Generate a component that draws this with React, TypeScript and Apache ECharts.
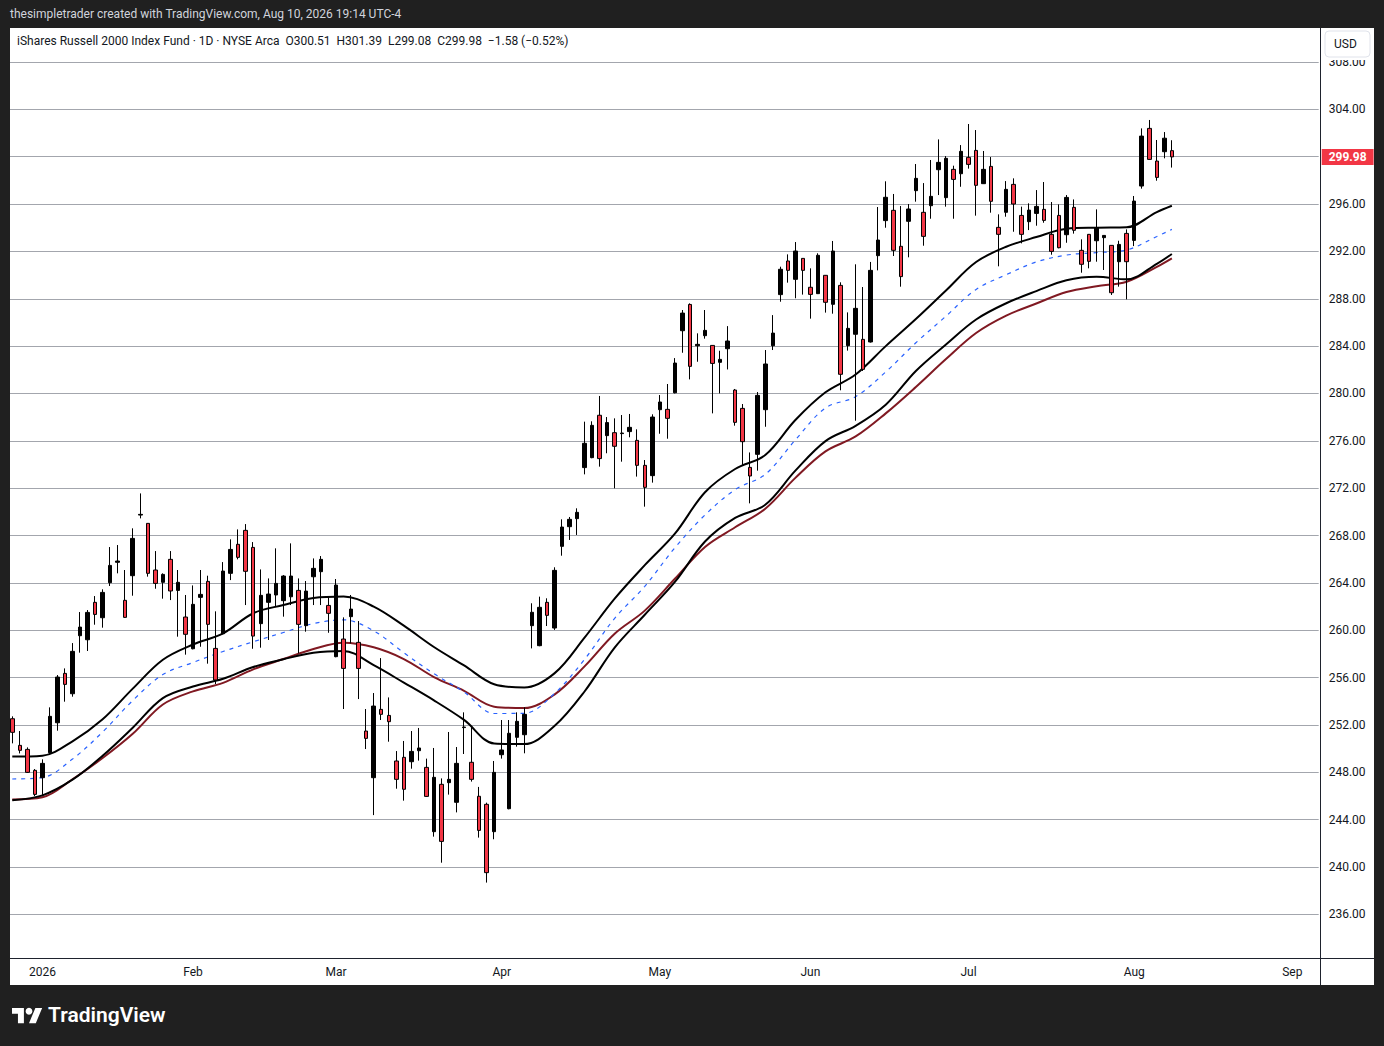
import React, { useEffect, useRef } from "react";
import * as echarts from "echarts";

// ---------- calendar ----------
const HOLIDAYS = ["2026-01-01", "2026-01-19", "2026-02-16", "2026-04-03", "2026-05-25", "2026-06-19", "2026-07-03"];
const FIRST_DAY = "2025-12-26";
const LAST_AXIS_DAY = "2026-09-04";
const TICK_DATES = ["2026-01-02", "2026-02-02", "2026-03-02", "2026-04-01", "2026-05-01", "2026-06-01", "2026-07-01", "2026-08-03", "2026-09-01"];
const TICK_LABELS = ["2026", "Feb", "Mar", "Apr", "May", "Jun", "Jul", "Aug", "Sep"];

// ---------- price axis ----------
const Y_MIN = 232;
const Y_MAX = 312;
const Y_STEP = 4;

// ---------- candles (daily OHLC) ----------
const OPEN = [
  252.53, 250.28, 249.94, 248.17, 247.55, 249.66, 252.19, 256.36, 254.64, 259.54,
  259.2, 262.36, 261.06, 264.02, 265.74, 262.53, 264.61, 269.73, 269.03, 265.09,
  264.05, 265.99, 263.37, 261.12, 258.44, 262.78, 264.13, 258.47, 259.71, 264.81,
  267.26, 268.44, 267.0, 260.56, 262.36, 262.98, 262.5, 262.83, 263.37, 260.39,
  264.52, 264.95, 262.1, 257.77, 259.26, 261.15, 258.98, 251.49, 247.55, 253.32,
  252.81, 248.96, 249.27, 248.9, 249.83, 248.42, 242.99, 246.99, 247.13, 245.47,
  251.78, 248.85, 245.98, 245.3, 242.99, 249.49, 244.93, 250.96, 251.18, 260.39,
  258.7, 262.36, 260.19, 267.09, 268.75, 269.43, 273.74, 274.58, 278.16, 276.44,
  276.69, 276.61, 276.78, 276.04, 273.93, 273.06, 278.63, 278.66, 280.06, 285.3,
  287.52, 284.03, 284.88, 284.06, 282.63, 283.78, 280.29, 278.74, 273.76, 274.86,
  278.63, 284.03, 288.35, 291.19, 289.64, 291.41, 288.97, 288.43, 289.98, 287.53,
  289.13, 284.04, 285.0, 284.57, 284.35, 291.64, 294.6, 295.47, 292.43, 294.54,
  297.13, 295.3, 295.86, 298.9, 296.54, 298.93, 298.56, 299.94, 300.53, 297.72,
  299.18, 294.03, 295.3, 297.66, 295.04, 294.51, 295.21, 295.55, 293.44, 295.04,
  293.41, 295.72, 292.09, 293.44, 292.9, 293.16, 292.51, 291.13, 293.52, 292.93,
  297.52, 302.39, 299.63, 300.42, 300.51,
];
const HIGH = [
  252.73, 251.49, 250.11, 248.28, 249.1, 253.49, 256.22, 256.78, 258.92, 261.54,
  261.71, 262.89, 263.46, 267.03, 267.2, 265.09, 268.61, 271.56, 269.05, 266.69,
  264.81, 266.69, 265.09, 262.98, 263.79, 265.09, 264.61, 261.6, 265.76, 267.68,
  268.52, 268.97, 267.45, 265.14, 264.38, 266.92, 264.66, 267.34, 264.38, 264.16,
  266.07, 266.27, 262.78, 264.33, 261.09, 262.98, 260.78, 253.35, 254.7, 257.65,
  254.33, 249.8, 250.65, 251.49, 251.75, 249.16, 250.06, 247.49, 251.41, 250.14,
  253.07, 251.92, 246.77, 245.44, 248.96, 252.42, 252.42, 253.07, 253.49, 262.28,
  262.84, 262.7, 265.32, 269.37, 269.57, 270.3, 277.62, 277.65, 279.79, 278.01,
  277.9, 278.18, 278.27, 276.97, 274.38, 278.24, 279.87, 280.8, 282.99, 287.05,
  287.61, 285.08, 287.05, 284.08, 283.61, 285.69, 280.38, 279.11, 275.02, 280.12,
  283.67, 286.62, 290.71, 291.75, 292.79, 291.43, 290.57, 291.84, 290.0, 292.88,
  289.39, 286.85, 290.91, 288.99, 291.11, 295.75, 297.92, 296.85, 295.83, 296.0,
  299.38, 297.77, 299.72, 301.46, 300.05, 299.24, 300.98, 302.76, 302.25, 300.48,
  299.97, 295.13, 297.94, 298.17, 295.78, 296.06, 297.18, 297.86, 296.17, 295.97,
  296.76, 296.39, 293.02, 293.47, 295.55, 293.37, 292.53, 292.9, 293.86, 296.68,
  302.39, 303.1, 301.41, 302.08, 301.39,
];
const LOW = [
  250.45, 249.6, 247.95, 246.0, 246.09, 249.6, 251.52, 253.97, 254.39, 258.11,
  258.25, 260.47, 260.22, 263.74, 264.81, 261.05, 262.92, 269.45, 264.53, 263.51,
  262.67, 262.55, 259.46, 257.94, 258.39, 258.61, 257.18, 255.46, 259.66, 264.24,
  265.99, 262.13, 258.44, 258.53, 259.18, 261.99, 261.15, 262.13, 258.05, 259.88,
  262.13, 262.13, 259.79, 257.72, 253.35, 258.89, 254.19, 249.97, 244.39, 252.42,
  250.59, 246.62, 245.61, 248.31, 248.99, 245.92, 242.57, 240.37, 246.12, 244.62,
  249.55, 247.22, 242.49, 238.69, 242.35, 249.16, 244.88, 250.17, 249.61, 258.47,
  258.65, 260.36, 260.03, 266.3, 267.63, 268.05, 273.17, 274.53, 273.82, 274.95,
  271.99, 274.24, 276.3, 272.98, 270.44, 272.47, 276.6, 276.18, 280.01, 283.44,
  281.19, 282.68, 284.63, 278.32, 280.01, 282.03, 277.28, 273.96, 270.72, 273.48,
  277.19, 283.67, 287.75, 289.36, 288.04, 288.35, 286.32, 288.4, 286.83, 286.74,
  280.27, 283.62, 277.7, 281.9, 284.3, 290.4, 294.0, 291.61, 289.02, 291.5,
  296.2, 292.48, 294.76, 296.76, 295.78, 294.76, 297.46, 298.99, 295.02, 297.7,
  295.27, 290.74, 294.93, 293.66, 292.68, 293.8, 294.17, 294.42, 291.72, 292.26,
  292.73, 293.5, 290.2, 290.57, 291.13, 290.43, 288.32, 289.02, 287.95, 292.45,
  297.3, 299.75, 297.97, 299.86, 299.08,
];
const CLOSE = [
  251.38, 249.86, 248.0, 246.14, 248.76, 252.73, 256.05, 255.43, 258.22, 260.27,
  261.51, 261.34, 263.2, 265.48, 265.85, 261.09, 267.76, 269.79, 264.81, 263.96,
  264.72, 263.32, 264.05, 259.66, 262.19, 263.03, 260.5, 255.8, 265.0, 266.83,
  266.16, 264.98, 259.51, 262.95, 263.06, 263.96, 264.58, 264.58, 260.5, 263.31,
  265.23, 265.99, 261.43, 263.82, 256.78, 261.79, 256.78, 250.87, 253.6, 252.9,
  252.28, 247.41, 246.57, 249.77, 250.06, 245.97, 247.58, 242.17, 247.41, 248.76,
  251.83, 247.41, 243.1, 239.53, 248.0, 249.89, 251.3, 252.31, 252.9, 261.52,
  261.94, 261.26, 265.06, 268.72, 269.37, 269.96, 275.79, 277.31, 274.5, 277.54,
  275.54, 276.66, 277.14, 273.93, 272.07, 278.01, 279.28, 277.9, 282.57, 286.79,
  282.29, 284.15, 285.33, 282.54, 282.88, 284.43, 277.56, 275.93, 273.03, 279.84,
  282.49, 285.1, 290.49, 290.4, 292.03, 290.4, 288.37, 291.67, 287.7, 292.03,
  281.62, 285.5, 287.19, 282.04, 290.4, 292.96, 296.57, 292.09, 289.87, 295.58,
  298.17, 293.27, 296.65, 299.52, 299.86, 298.08, 300.45, 299.35, 297.58, 298.93,
  296.23, 293.44, 297.24, 296.0, 293.44, 295.49, 295.8, 294.62, 292.0, 292.31,
  296.56, 293.78, 290.91, 291.16, 293.97, 293.35, 288.51, 292.59, 291.13, 296.25,
  301.74, 299.77, 298.25, 301.56, 299.98,
];

// ---------- indicator lines, read at these bar indices ----------
const MA_IDX = [0, 4, 8, 12, 16, 20, 24, 28, 32, 36, 40, 44, 48, 52, 56, 60, 64, 68, 72, 76, 80, 84, 88, 92, 96, 100, 104, 108, 112, 116, 120, 124, 128, 132, 136, 140, 144, 148, 152, 154];
const UPPER_BAND = [
  249.33, 249.41, 250.62, 252.48, 255.07, 257.51, 258.8, 259.74, 261.44, 262.13,
  262.72, 262.85, 262.0, 260.39, 258.59, 257.03, 255.44, 255.17, 256.36, 259.38,
  262.67, 265.5, 268.16, 271.66, 273.62, 274.8, 277.76, 280.1, 281.6, 284.0,
  286.29, 288.7, 291.1, 292.39, 293.21, 293.91, 294.0, 294.03, 295.32, 295.86,
];
const MID_LINE = [
  247.44, 247.56, 249.12, 251.41, 254.07, 256.26, 257.28, 258.21, 259.03, 259.81,
  260.57, 260.88, 259.95, 258.1, 256.33, 254.79, 252.97, 252.99, 254.65, 257.54,
  261.01, 263.71, 266.97, 269.74, 271.88, 273.17, 276.08, 278.78, 279.73, 281.82,
  284.28, 286.53, 288.79, 290.03, 291.11, 291.69, 291.9, 292.12, 293.26, 293.86,
];
const LOWER_BAND = [
  245.65, 246.06, 247.38, 249.4, 251.77, 254.27, 255.25, 255.9, 256.9, 257.55,
  258.11, 258.26, 257.05, 255.58, 254.08, 252.43, 250.44, 250.39, 251.91, 254.83,
  258.54, 261.31, 264.08, 267.5, 269.49, 270.6, 273.48, 275.98, 277.27, 279.05,
  281.9, 284.14, 286.25, 287.62, 288.65, 289.56, 289.85, 289.64, 290.95, 291.78,
];
const RED_LINE = [
  245.71, 245.89, 247.42, 249.21, 251.26, 253.73, 254.84, 255.56, 256.7, 257.57,
  258.42, 258.95, 258.56, 257.57, 256.05, 254.89, 253.55, 253.43, 254.57, 256.95,
  259.71, 261.66, 264.35, 267.04, 268.7, 270.27, 272.87, 275.11, 276.37, 278.32,
  280.55, 282.91, 285.11, 286.58, 287.6, 288.57, 289.06, 289.44, 290.7, 291.42,
];

const HEADER = "thesimpletrader created with TradingView.com, Aug 10, 2026 19:14 UTC-4";
const SYMBOL = "iShares Russell 2000 Index Fund · 1D · NYSE Arca";

const FONT = "Roboto, 'Noto Sans', sans-serif";
const FRAME = "#202020";
const TEXT = "#131722";
const RED = "#f23645";

echarts.graphic.registerShape(
  "tvlogo",
  echarts.graphic.extendPath("M14 22H7V11H0V4h14v18zM28 22h-8l7.5-18h8L28 22z", {})
);

function tradingDays(): string[] {
  const out: string[] = [];
  const d = new Date(FIRST_DAY + "T12:00:00Z");
  const end = new Date(LAST_AXIS_DAY + "T12:00:00Z");
  while (d.getTime() <= end.getTime()) {
    const wd = d.getUTCDay();
    const s = d.toISOString().slice(0, 10);
    if (wd !== 0 && wd !== 6 && HOLIDAYS.indexOf(s) < 0) out.push(s);
    d.setUTCDate(d.getUTCDate() + 1);
  }
  return out;
}

function fmtSigned(v: number, digits: number): string {
  const s = Math.abs(v).toFixed(digits);
  return (v < 0 ? "\u2212" : "+") + s;
}

function buildOption() {
  const dates = tradingDays();
  const n = CLOSE.length;
  const last = n - 1;
  const candles = CLOSE.map((c, i) => [OPEN[i], c, LOW[i], HIGH[i]]);
  const chg = CLOSE[last] - CLOSE[last - 1];
  const pct = (chg / CLOSE[last - 1]) * 100;
  const legend =
    `${SYMBOL}  O${OPEN[last].toFixed(2)}  H${HIGH[last].toFixed(2)}  L${LOW[last].toFixed(2)}  C${CLOSE[last].toFixed(2)}  ` +
    `${fmtSigned(chg, 2)} (${fmtSigned(pct, 2)}%)`;

  const pairs = (vals: number[]) => MA_IDX.map((i, k) => [i, vals[k]]);
  const lineSeries = (name: string, vals: number[], color: string, width: number, type: any = "solid") => ({
    name,
    type: "line",
    data: pairs(vals),
    symbol: "none",
    smooth: 0.35,
    silent: true,
    z: 2,
    lineStyle: { color, width, type },
  });

  return {
    animation: false,
    backgroundColor: "#ffffff",
    grid: {
      left: 8.5,
      right: 65.3,
      top: 14.6,
      bottom: 84.2,
      containLabel: false,
      outerBoundsMode: "none",
    },
    xAxis: {
      type: "category",
      data: dates,
      boundaryGap: true,
      axisLine: { show: false },
      axisTick: { show: false },
      splitLine: { show: false },
      axisLabel: {
        interval: (_idx: number, val: string) => TICK_DATES.indexOf(val) >= 0,
        formatter: (val: string) => {
          const k = TICK_DATES.indexOf(val);
          return k >= 0 ? TICK_LABELS[k] : "";
        },
        margin: 4,
        color: TEXT,
        fontSize: 12,
        fontFamily: FONT,
      },
    },
    yAxis: {
      type: "value",
      position: "right",
      min: Y_MIN,
      max: Y_MAX,
      interval: Y_STEP,
      axisLine: { show: false },
      axisTick: { show: false },
      splitLine: {
        show: true,
        showMinLine: false,
        showMaxLine: false,
        lineStyle: { color: "#a3a6ad", width: 1 },
      },
      axisLabel: {
        margin: 10,
        showMinLabel: false,
        showMaxLabel: false,
        formatter: (v: number) => v.toFixed(2),
        color: TEXT,
        fontSize: 12,
        fontFamily: FONT,
      },
    },
    series: [
      lineSeries("Red MA", RED_LINE, "#801922", 2),
      lineSeries("Mid", MID_LINE, "#2962ff", 1.2, [4, 5]),
      lineSeries("Upper", UPPER_BAND, "#000000", 2),
      lineSeries("Lower", LOWER_BAND, "#000000", 2),
      {
        name: "IWM",
        type: "candlestick",
        data: candles,
        barWidth: 4,
        z: 5,
        silent: true,
        itemStyle: {
          color: "#000000",
          color0: RED,
          borderColor: "#000000",
          borderColor0: "#000000",
          borderColorDoji: "#000000",
          borderWidth: 1,
        },
        markLine: {
          silent: true,
          symbol: ["none", "none"],
          animation: false,
          lineStyle: { color: "rgba(0,0,0,0)", width: 1 },
          label: {
            show: true,
            position: "end",
            distance: 3,
            formatter: () => CLOSE[last].toFixed(2),
            backgroundColor: RED,
            color: "#ffffff",
            fontWeight: "bold",
            fontSize: 12,
            fontFamily: FONT,
            padding: [2, 7, 2, 7],
          },
          data: [{ yAxis: CLOSE[last] }],
        },
      },
    ],
    graphic: [
      { type: "rect", z: 100, silent: true, shape: { x: 0, y: 0, width: 1384, height: 28 }, style: { fill: FRAME } },
      { type: "rect", z: 100, silent: true, shape: { x: 0, y: 0, width: 10, height: 1046 }, style: { fill: FRAME } },
      { type: "rect", z: 100, silent: true, shape: { x: 1374, y: 0, width: 10, height: 1046 }, style: { fill: FRAME } },
      { type: "rect", z: 100, silent: true, shape: { x: 0, y: 985, width: 1384, height: 61 }, style: { fill: FRAME } },
      { type: "line", z: 100, silent: true, shape: { x1: 1320.5, y1: 28, x2: 1320.5, y2: 985 }, style: { stroke: "#1e222d", lineWidth: 1 } },
      { type: "line", z: 100, silent: true, shape: { x1: 10, y1: 958.5, x2: 1374, y2: 958.5 }, style: { stroke: "#1e222d", lineWidth: 1 } },
      {
        type: "rect",
        z: 100,
        silent: true,
        shape: { x: 1322, y: 28, width: 52, height: 32 },
        style: { fill: "#ffffff" },
      },
      {
        type: "rect",
        z: 101,
        silent: true,
        shape: { x: 1325, y: 31, width: 45, height: 26, r: 4 },
        style: { fill: "#ffffff", stroke: "#e0e3eb", lineWidth: 1 },
      },
      {
        type: "text",
        z: 102,
        silent: true,
        x: 1334,
        y: 38,
        style: { text: "USD", fill: TEXT, font: `12px ${FONT}` },
      },
      {
        type: "text",
        z: 102,
        silent: true,
        x: 10,
        y: 8,
        style: { text: HEADER, fill: "#d1d4dc", font: `12px ${FONT}` },
      },
      {
        type: "text",
        z: 102,
        silent: true,
        x: 17,
        y: 35,
        style: { text: legend, fill: TEXT, font: `12px ${FONT}` },
      },
      {
        type: "tvlogo",
        z: 102,
        silent: true,
        x: 12,
        y: 1004.5,
        scaleX: 0.85,
        scaleY: 0.85,
        style: { fill: "#ffffff" },
      },
      {
        type: "circle",
        z: 102,
        silent: true,
        shape: { cx: 12 + 20 * 0.85, cy: 1004.5 + 8 * 0.85, r: 4 * 0.85 },
        style: { fill: "#ffffff" },
      },
      {
        type: "text",
        z: 102,
        silent: true,
        x: 48,
        y: 1004,
        style: { text: "TradingView", fill: "#ffffff", font: `600 21px ${FONT}` },
      },
    ],
  };
}

export default function App() {
  const ref = useRef<HTMLDivElement>(null);
  useEffect(() => {
    document.body.style.margin = "0";
    if (!ref.current) return;
    const chart = echarts.init(ref.current, undefined, { renderer: "svg" });
    chart.setOption(buildOption() as any);
    return () => {
      chart.dispose();
    };
  }, []);
  return <div ref={ref} style={{ width: 1384, height: 1046 }} />;
}
